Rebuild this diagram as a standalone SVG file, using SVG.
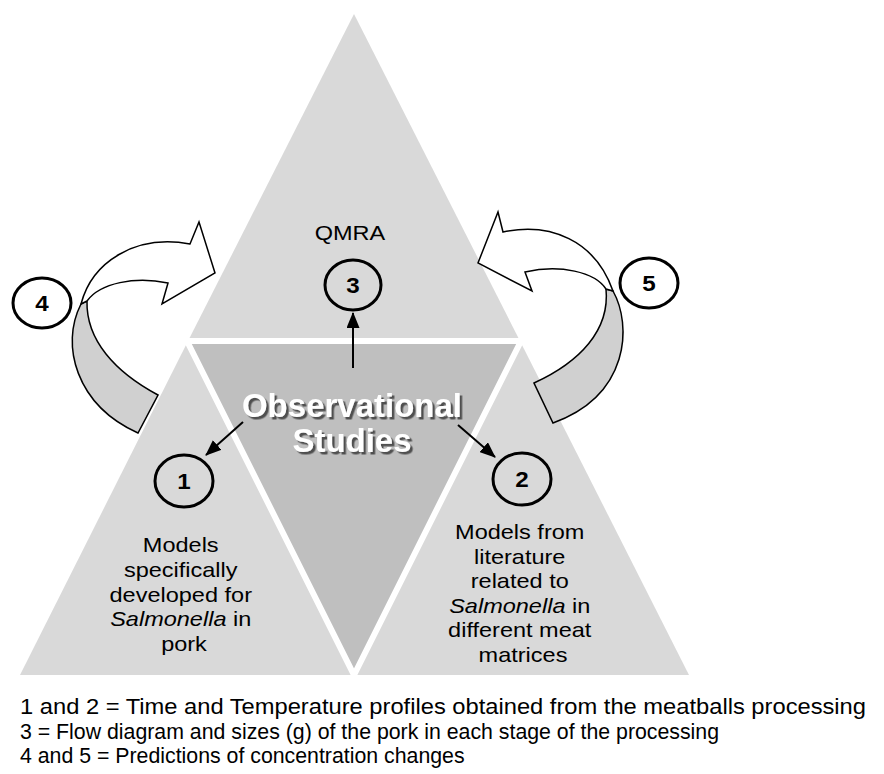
<svg xmlns="http://www.w3.org/2000/svg" width="884" height="774" viewBox="0 0 884 774">
<style>
text{font-family:"Liberation Sans",Arial,sans-serif;fill:#000}
.lbl{font-size:21px}
.leg{font-size:21.3px}
.num{font-size:22px;font-weight:bold}
.obs{font-size:33px;font-weight:bold;fill:#fff}
.circ{fill:none;stroke:#000;stroke-width:3}
.curve{stroke:#000;stroke-width:1.5;stroke-linejoin:miter}
.conn{stroke:#000;stroke-width:2;fill:none}
</style>
<defs>
<marker id="ah" markerUnits="userSpaceOnUse" markerWidth="16" markerHeight="13" viewBox="0 0 16 13" refX="15" refY="6.5" orient="auto">
<path d="M0,0 L16,6.5 L0,13 Z" fill="#000"/>
</marker>
<filter id="sh" x="-10%" y="-20%" width="120%" height="150%">
<feDropShadow dx="2.5" dy="2.5" stdDeviation="0.4" flood-color="#505050" flood-opacity="1"/>
</filter>
</defs>
<rect width="884" height="774" fill="#fff"/>
<g id="node-top"><polygon points="354,14 187,343 521,343" fill="#d9d9d9"/></g>
<g id="node-left"><polygon points="20,675 187,343 354,675" fill="#d9d9d9"/></g>
<g id="node-right"><polygon points="354,675 521,343 689,675" fill="#d9d9d9"/></g>
<g id="node-middle"><polygon points="187,341 521,341 354,675" fill="#bfbfbf" stroke="#fff" stroke-width="6" stroke-linejoin="miter"/></g>

<g id="curve-4">
<path class="curve" fill="#d0d0d0" d="M81,304 C60,345 76,405 138,433 L158,395 C115,372 86,340 87,301 Z"/>
<path class="curve" fill="#fff" d="M81,304 C92,262 135,234 190,244 L199,222 L215,273 L162,304 L168,283 C135,276 100,283 87,301 Z"/>
</g>
<g id="curve-5">
<path class="curve" fill="#d0d0d0" d="M613,291 C632,325 630,395 553,423 L534,383 C580,362 610,330 606,289 Z"/>
<path class="curve" fill="#fff" d="M613,291 C595,240 550,222 503,232 L498,212 L478,263 L532,291 L525,272 C560,264 595,272 606,289 Z"/>
</g>

<g id="connectors">
<line class="conn" x1="353" y1="368" x2="353" y2="313" marker-end="url(#ah)"/>
<line class="conn" x1="243" y1="422" x2="206" y2="455" marker-end="url(#ah)"/>
<line class="conn" x1="458" y1="425" x2="495" y2="457" marker-end="url(#ah)"/>
</g>

<g id="label-qmra"><text class="lbl" transform="translate(350,240) scale(1.12,1)" text-anchor="middle">QMRA</text></g>

<g id="label-observational" filter="url(#sh)">
<text class="obs" x="352" y="417" text-anchor="middle"><tspan x="352" y="417">Observational</tspan><tspan x="352" y="452">Studies</tspan></text>
</g>

<g id="node-3"><ellipse class="circ" cx="353" cy="285" rx="28" ry="25"/><text class="num" transform="translate(353,293) scale(1.1,1)" text-anchor="middle">3</text></g>
<g id="node-1"><ellipse class="circ" cx="184" cy="481" rx="29" ry="26"/><text class="num" transform="translate(184,489) scale(1.1,1)" text-anchor="middle">1</text></g>
<g id="node-2"><ellipse class="circ" cx="522" cy="479" rx="29" ry="26"/><text class="num" transform="translate(522,487) scale(1.1,1)" text-anchor="middle">2</text></g>
<g id="node-4"><ellipse class="circ" cx="42" cy="303" rx="29" ry="25"/><text class="num" transform="translate(42,311) scale(1.1,1)" text-anchor="middle">4</text></g>
<g id="node-5"><ellipse class="circ" cx="649" cy="283" rx="29" ry="25"/><text class="num" transform="translate(649,291) scale(1.1,1)" text-anchor="middle">5</text></g>

<g id="label-left">
<text class="lbl" transform="translate(184,552) scale(1.12,1)" text-anchor="middle">
<tspan x="0" y="0">Models</tspan>
<tspan x="0" y="25">specifically</tspan>
<tspan x="0" y="50">developed for</tspan>
<tspan x="0" y="74"><tspan font-style="italic">Salmonella</tspan> in</tspan>
<tspan x="0" y="99">pork</tspan>
</text>
</g>
<g id="label-right">
<text class="lbl" transform="translate(523,539) scale(1.12,1)" text-anchor="middle">
<tspan x="0" y="0">Models from</tspan>
<tspan x="0" y="24.6">literature</tspan>
<tspan x="0" y="49.2">related to</tspan>
<tspan x="0" y="73.8"><tspan font-style="italic">Salmonella</tspan> in</tspan>
<tspan x="0" y="98.4">different meat</tspan>
<tspan x="0" y="123">matrices</tspan>
</text>
</g>

<g id="legend">
<text class="leg" x="20" y="714" textLength="846" lengthAdjust="spacingAndGlyphs">1 and 2 = Time and Temperature profiles obtained from the meatballs processing</text>
<text class="leg" x="20" y="738.5">3 = Flow diagram and sizes (g) of the pork in each stage of the processing</text>
<text class="leg" x="20" y="763">4 and 5 = Predictions of concentration changes</text>
</g>
</svg>
